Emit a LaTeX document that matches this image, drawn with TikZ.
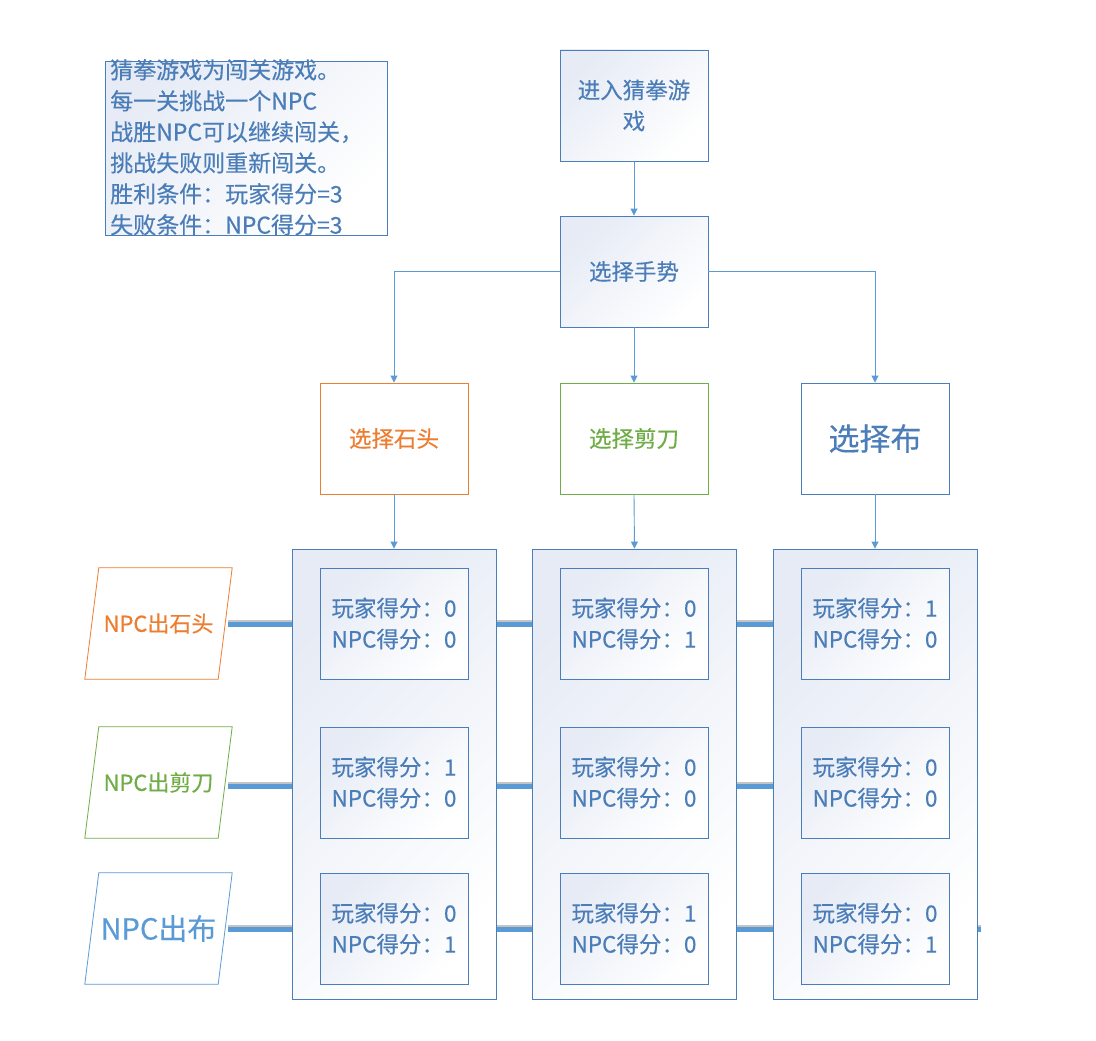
\documentclass[tikz,border=0pt]{standalone}
\usepackage{fontspec}
\setmainfont[FakeBold=0.3]{Noto Sans CJK SC}
\usetikzlibrary{arrows.meta,calc}
\definecolor{bd}{HTML}{4A7EBB}
\definecolor{tx}{HTML}{4B7DB8}
\definecolor{cn}{HTML}{5B9BD5}
\definecolor{gtop}{HTML}{E6EBF5}
\definecolor{org}{HTML}{ED7D31}
\definecolor{grn}{HTML}{70AD47}
\definecolor{shd}{HTML}{C4C4C4}
\newcommand{\fsz}[1]{\fontsize{#1}{31}\selectfont}
\tikzset{
  box/.style={draw=bd, line width=0.9pt, minimum width=148pt, minimum height=111pt, inner sep=0pt, text=tx, font=\fsz{22.5}, align=center},
  gbox/.style={box, top color=gtop, bottom color=white, shading angle=45},
  colbox/.style={draw=bd, line width=0.9pt, minimum width=204pt, minimum height=450pt, inner sep=0pt, top color=gtop, bottom color=white, shading angle=45},
  conn/.style={draw=cn, line width=0.9pt, -{Triangle[length=7pt,width=7pt]}},
  pgram/.style={minimum width=133pt, minimum height=111pt, inner sep=0pt, font=\fsz{22}},
  thickln/.style={draw=cn, line width=5pt},
  thickshd/.style={draw=shd, line width=5pt}
}
\begin{document}
\begin{tikzpicture}[x=1pt,y=-1pt]
\useasboundingbox[fill=white] (0,0) rectangle (1096,1041);

% note box
\node[draw=bd, line width=0.9pt, minimum width=282pt, minimum height=174pt, inner sep=0pt, anchor=north west, top color=gtop, bottom color=white, shading angle=45] (note) at (105,61) {};
\node[anchor=north west, align=left, inner sep=0pt, text=tx, font=\fsz{23}] (notetext) at (110,59) {猜拳游戏为闯关游戏。\\每一关挑战一个NPC\\战胜NPC可以继续闯关，\\挑战失败则重新闯关。\\胜利条件：玩家得分=3\\失败条件：NPC得分=3};

% top flow
\node[gbox] (enter) at (634,105.5) {进入猜拳游\\戏};
\node[gbox] (choose) at (634,271.5) {选择手势};
\node[box, draw=org, text=org, fill=white] (rock) at (394,438.5) {选择石头};
\node[box, draw=grn, text=grn, fill=white] (sciss) at (634,438.5) {选择剪刀};
\node[box, fill=white, font=\fsz{31}] (cloth) at (875,438.5) {选择布};

\draw[conn] (enter.south) -- (choose.north);
\draw[conn] (choose.west) -| (rock.north);
\draw[conn] (choose.south) -- (sciss.north);
\draw[conn] (choose.east) -| (cloth.north);

% parallelograms
\node[pgram, text=org] (p1) at (158.5,623.5) {NPC出石头};
\node[pgram, text=grn] (p2) at (158.5,782.5) {NPC出剪刀};
\node[pgram, text=cn, font=\fsz{29}] (p3) at (158.5,928.5) {NPC出布};
\draw[org, line width=0.8pt] ($(p1.north west)+(7,0)$) -- ($(p1.north east)+(7,0)$) -- ($(p1.south east)+(-7,0)$) -- ($(p1.south west)+(-7,0)$) -- cycle;
\draw[grn, line width=0.8pt] ($(p2.north west)+(7,0)$) -- ($(p2.north east)+(7,0)$) -- ($(p2.south east)+(-7,0)$) -- ($(p2.south west)+(-7,0)$) -- cycle;
\draw[cn, line width=0.8pt] ($(p3.north west)+(7,0)$) -- ($(p3.north east)+(7,0)$) -- ($(p3.south east)+(-7,0)$) -- ($(p3.south west)+(-7,0)$) -- cycle;

% thick row lines (behind columns)
\coordinate (e1) at (977,623.5);
\coordinate (e2) at (977,785.5);
\coordinate (e3) at (981,928.5);
\draw[thickshd] ($(p1.east)+(3,-1)$) -- ($(e1)+(0,-1)$);
\draw[thickln] ($(p1.east)+(3,0.5)$) -- ($(e1)+(0,0.5)$);
\draw[thickshd] ($(p2.east)+(3,2)$) -- ($(e2)+(0,-1)$);
\draw[thickln] ($(p2.east)+(3,3.5)$) -- ($(e2)+(0,0.5)$);
\draw[thickshd] ($(p3.east)+(3,-1)$) -- ($(e3)+(0,-1)$);
\draw[thickln] ($(p3.east)+(3,0.5)$) -- ($(e3)+(0,0.5)$);

% columns
\node[colbox] (c1) at (394,774) {};
\node[colbox] (c2) at (634.5,774) {};
\node[colbox] (c3) at (875,774) {};

\draw[conn] (rock.south) -- (c1.north);
\draw[conn] (sciss.south) -- (c2.north);
\draw[conn] (cloth.south) -- (c3.north);

% score boxes
\node[gbox] (s11) at (394,623.5) {玩家得分：0\\NPC得分：0};
\node[gbox] (s12) at (634,623.5) {玩家得分：0\\NPC得分：1};
\node[gbox] (s13) at (875,623.5) {玩家得分：1\\NPC得分：0};
\node[gbox] (s21) at (394,782.5) {玩家得分：1\\NPC得分：0};
\node[gbox] (s22) at (634,782.5) {玩家得分：0\\NPC得分：0};
\node[gbox] (s23) at (875,782.5) {玩家得分：0\\NPC得分：0};
\node[gbox] (s31) at (394,928.5) {玩家得分：0\\NPC得分：1};
\node[gbox] (s32) at (634,928.5) {玩家得分：1\\NPC得分：0};
\node[gbox] (s33) at (875,928.5) {玩家得分：0\\NPC得分：1};
\end{tikzpicture}
\end{document}
